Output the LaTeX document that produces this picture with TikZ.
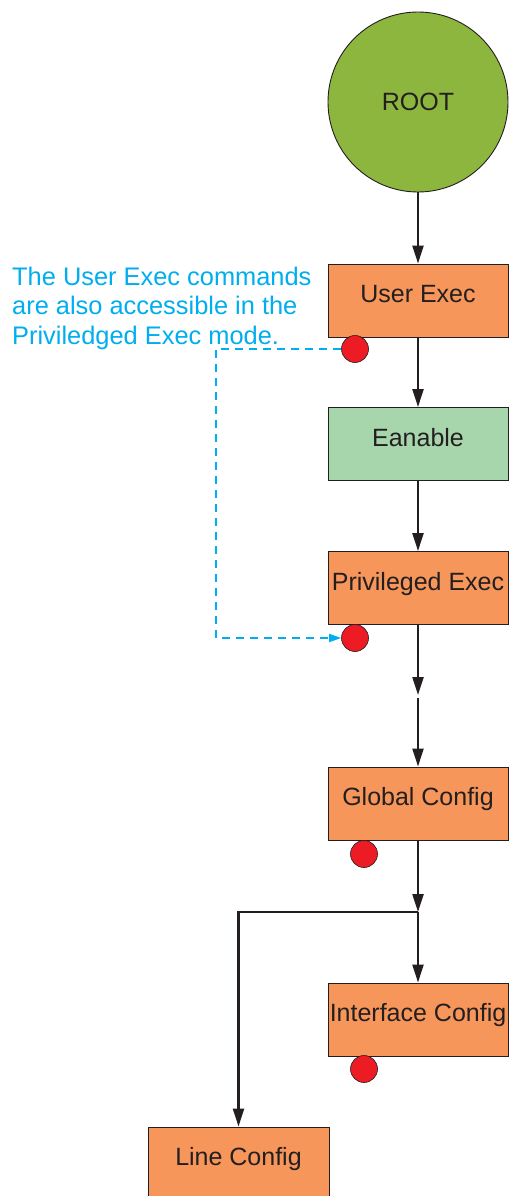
\documentclass[tikz,border=0pt]{standalone}
\usepackage{fontspec}
\setmainfont{Liberation Sans}
\usetikzlibrary{arrows.meta}
\definecolor{rootgreen}{RGB}{141,182,62}
\definecolor{boxorange}{RGB}{247,150,90}
\definecolor{boxgreen}{RGB}{168,214,172}
\definecolor{dotred}{RGB}{237,28,36}
\definecolor{notecyan}{RGB}{0,174,239}
\definecolor{ink}{RGB}{35,31,32}
\begin{document}
\begin{tikzpicture}[x=1pt,y=-1pt,
  every node/.style={font=\fontsize{25}{30}\selectfont, text=ink},
  modebox/.style={draw=ink, line width=0.9pt, fill=boxorange, rectangle,
    minimum width=180pt, minimum height=73pt, inner xsep=1pt, inner ysep=0pt,
    text height=18pt, text depth=14pt},
  greenbox/.style={modebox, fill=boxgreen},
  rootcirc/.style={draw=ink, line width=0.9pt, fill=rootgreen, circle,
    minimum size=180pt, inner sep=0pt},
  reddot/.style={draw=ink, line width=0.6pt, fill=dotred, circle,
    minimum size=27pt, inner sep=0pt},
  arr/.style={draw=ink, line width=2.2pt, -{Triangle[width=11pt,length=18pt]}},
  dashlink/.style={draw=notecyan, line width=1.5pt, dash pattern=on 8pt off 6pt,
    -{Triangle[width=8pt,length=12pt]}},
  note/.style={text=notecyan, align=left, inner sep=0pt,
    font=\fontsize{25.4}{29.5}\selectfont}
]
\useasboundingbox (0,0) rectangle (509,1196);
\clip (0,0) rectangle (509,1196);

\node[rootcirc] (root) at (418,102) {ROOT};
\node[modebox] (user) at (418,300.5) {User Exec};
\node[greenbox] (enable) at (418,444) {Eanable};
\node[modebox] (priv) at (418,588) {Privileged Exec};
\node[modebox] (global) at (418,803.5) {Global Config};
\node[modebox] (iface) at (418,1019.5) {Interface Config};
\node[modebox, minimum width=181pt] (line) at (238.5,1163.5) {Line Config};

\node[note, anchor=north west] (txt) at (12,266.5)
  {The User Exec commands\\are also accessible in the\\Priviledged Exec mode.};

\coordinate (m1) at (418,695);
\coordinate (m2) at (418,698);
\coordinate (j) at (418,912);
\coordinate (c1) at (216,349);
\coordinate (c2) at (216,638);

\draw[arr] (root) -- (user);
\draw[arr] (user) -- (enable);
\draw[arr] (enable) -- (priv);
\draw[arr] (priv) -- (m1);
\draw[arr] (m2) -- (global);
\draw[arr] (global.south) -- (j);
\draw[arr] (j) -- (iface);
\draw[arr] (j) -| (line.north);

\node[reddot] (d1) at (355,349) {};
\node[reddot] (d2) at (355,638) {};
\node[reddot] (d3) at (364,854) {};
\node[reddot] (d4) at (364,1069) {};

\draw[dashlink] (d1.west) -- (c1) -- (c2) -- (d2.west);
\end{tikzpicture}
\end{document}
